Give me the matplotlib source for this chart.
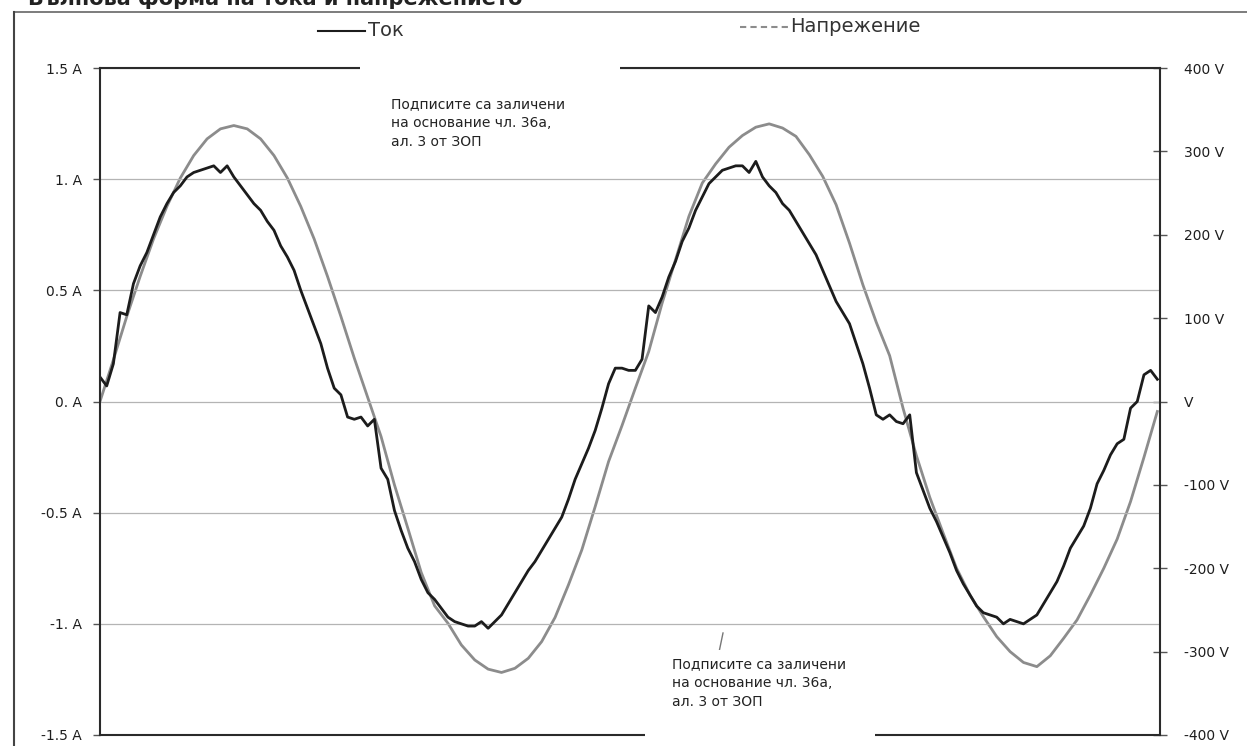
import matplotlib
matplotlib.use("Agg")
import matplotlib.pyplot as plt
from matplotlib.patches import Rectangle
from matplotlib.lines import Line2D

# time axis in ms (two mains periods)
t_current = [i * 0.25 for i in range(159)]
current_a = [
    0.11, 0.07, 0.17, 0.40, 0.39, 0.53, 0.61, 0.67, 0.75, 0.83,
    0.89, 0.94, 0.97, 1.01, 1.03, 1.04, 1.05, 1.06, 1.03, 1.06,
    1.01, 0.97, 0.93, 0.89, 0.86, 0.81, 0.77, 0.70, 0.65, 0.59,
    0.50, 0.42, 0.34, 0.26, 0.15, 0.06, 0.03, -0.07, -0.08, -0.07,
    -0.11, -0.08, -0.30, -0.35, -0.49, -0.58, -0.66, -0.72, -0.80, -0.86,
    -0.89, -0.93, -0.97, -0.99, -1.00, -1.01, -1.01, -0.99, -1.02, -0.99,
    -0.96, -0.91, -0.86, -0.81, -0.76, -0.72, -0.67, -0.62, -0.57, -0.52,
    -0.44, -0.35, -0.28, -0.21, -0.13, -0.03, 0.08, 0.15, 0.15, 0.14,
    0.14, 0.19, 0.43, 0.40, 0.47, 0.56, 0.63, 0.72, 0.78, 0.86,
    0.92, 0.98, 1.01, 1.04, 1.05, 1.06, 1.06, 1.03, 1.08, 1.01,
    0.97, 0.94, 0.89, 0.86, 0.81, 0.76, 0.71, 0.66, 0.59, 0.52,
    0.45, 0.40, 0.35, 0.26, 0.17, 0.06, -0.06, -0.08, -0.06, -0.09,
    -0.10, -0.06, -0.32, -0.40, -0.48, -0.54, -0.61, -0.68, -0.76, -0.82,
    -0.87, -0.92, -0.95, -0.96, -0.97, -1.00, -0.98, -0.99, -1.00, -0.98,
    -0.96, -0.91, -0.86, -0.81, -0.74, -0.66, -0.61, -0.56, -0.48, -0.37,
    -0.31, -0.24, -0.19, -0.17, -0.03, 0.00, 0.12, 0.14, 0.10,
]

t_voltage = [i * 0.5 for i in range(80)]
voltage_v = [
    0, 50, 102, 150, 195, 234, 268, 295, 315, 327,
    331, 327, 315, 295, 268, 234, 195, 150, 102, 52,
    5, -42, -100, -152, -205, -245, -266, -292, -310, -321,
    -325, -320, -308, -288, -259, -220, -178, -126, -72, -29,
    16, 60, 118, 170, 222, 262, 285, 305, 319, 329,
    333, 328, 318, 296, 270, 236, 190, 140, 95, 55,
    -8, -65, -115, -158, -200, -232, -258, -282, -300, -313,
    -318, -305, -284, -262, -232, -200, -165, -120, -67, -12,
]

left_ticks = [-1.5, -1.0, -0.5, 0.0, 0.5, 1.0, 1.5]
left_labels = ["-1.5 A", "-1. A", "-0.5 A", "0. A", "0.5 A", "1. A", "1.5 A"]
right_ticks = [-400, -300, -200, -100, 0, 100, 200, 300, 400]
right_labels = ["-400 V", "-300 V", "-200 V", "-100 V", "V",
                "100 V", "200 V", "300 V", "400 V"]

note = "Подписите са заличени\nна основание чл. 36а,\nал. 3 от ЗОП"

W, H = 1247, 746
def fx(px):
    return px / W
def fy(py):
    return 1 - py / H

fig = plt.figure(figsize=(W / 100, H / 100), dpi=100)
fig.patch.set_facecolor("white")

ax = fig.add_axes([fx(100), fy(735), fx(1160) - fx(100), fy(68) - fy(735)])
ax2 = ax.twinx()
ax.set_zorder(ax2.get_zorder() + 1)
ax.patch.set_visible(False)

tick_font = dict(family="DejaVu Sans", size=10, color="#1e1e1e")

# voltage (right axis)
ax2.plot(t_voltage, voltage_v, color="#8c8c8c", lw=2.0)
ax2.set_ylim(-400, 400)
ax2.set_yticks(right_ticks)
ax2.set_yticklabels(right_labels, **tick_font)
ax2.tick_params(axis="y", direction="inout", length=10, width=1,
                color="#555555", pad=12)
for s in ax2.spines.values():
    s.set_visible(False)

# current (left axis)
ax.plot(t_current, current_a, color="#1c1c1c", lw=2.0)
ax.set_xlim(0, 39.6)
ax.set_ylim(-1.5, 1.5)
ax.set_yticks(left_ticks)
ax.set_yticklabels(left_labels, **tick_font)
ax.set_xticks([])
ax.tick_params(axis="y", direction="out", length=5, width=1,
               color="#555555", pad=8)
ax.grid(True, axis="y", color="#b4b4b4", lw=0.9)
ax.set_axisbelow(True)
for s in ax.spines.values():
    s.set_color("#2a2a2a")
    s.set_linewidth(1.5)

# outer frame of the scanned page
fig.add_artist(Line2D([fx(14), 1.0], [fy(12), fy(12)], color="#666666", lw=1.2))
fig.add_artist(Line2D([fx(14), fx(14)], [fy(12), 0.0], color="#444444", lw=1.5))

# title, cut off at the top of the scan
fig.text(fx(28), fy(5), "Вълнова форма на тока и напрежението",
         fontsize=15, weight="bold", color="#222222", va="baseline",
         family="DejaVu Sans")

# legend
fig.add_artist(Line2D([fx(318), fx(365)], [fy(31), fy(31)], color="#1c1c1c", lw=1.5))
fig.text(fx(368), fy(31), "Ток", fontsize=14, color="#333333", va="center",
         family="DejaVu Sans")
fig.add_artist(Line2D([fx(740), fx(788)], [fy(27), fy(27)], color="#8c8c8c",
                      lw=1.5, ls=(0, (3, 2))))
fig.text(fx(790), fy(27), "Напрежение", fontsize=14, color="#333333",
         va="center", family="DejaVu Sans")

# redaction boxes
for (x0, y0, x1, y1, tx, ty) in [(360, 60, 620, 172, 391, 97),
                                 (645, 650, 875, 746, 672, 657)]:
    fig.add_artist(Rectangle((fx(x0), fy(y1)), fx(x1) - fx(x0), fy(y0) - fy(y1),
                             transform=fig.transFigure, facecolor="white",
                             edgecolor="none", zorder=10))
    fig.text(fx(tx), fy(ty), note, fontsize=10, color="#222222", va="top",
             ha="left", linespacing=1.45, family="DejaVu Sans", zorder=11)

# small pen stroke near the lower box
fig.add_artist(Line2D([fx(718), fx(723)], [fy(657), fy(633)], color="#777777", lw=1.0))

fig.savefig("out.png", dpi=100)
